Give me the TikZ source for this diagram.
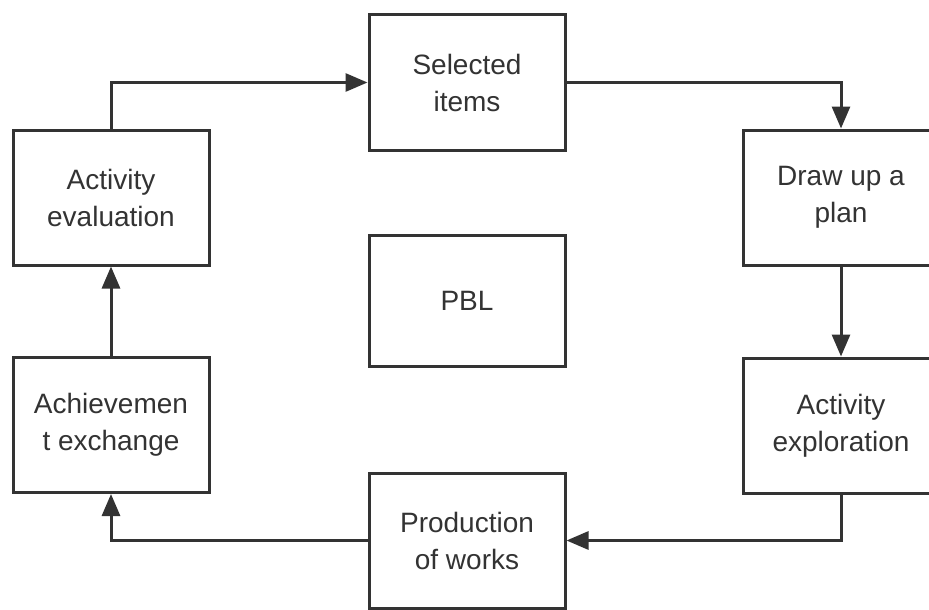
\documentclass[tikz,border=0pt]{standalone}
\usepackage{fontspec}
\setmainfont{Liberation Sans}
\usetikzlibrary{arrows.meta}
\definecolor{ink}{HTML}{333333}
\begin{document}
\begin{tikzpicture}[x=1pt,y=-1pt,
  stage/.style={draw=ink, line width=3pt, fill=white, minimum width=196pt,
    minimum height=135pt, align=center, text=ink, inner sep=0pt,
    font=\fontsize{28pt}{37pt}\selectfont},
  flow/.style={draw=ink, line width=3pt, -{Triangle[length=22pt,width=18pt]}},
  link/.style={draw=ink, line width=3pt}]
  \useasboundingbox (0,0) rectangle (929,610);

  % stages of the cycle
  \node[stage] (sel)  at (467,82.5)  {Selected\\items};
  \node[stage] (eval) at (111,197.5) {Activity\\evaluation};
  \node[stage] (plan) at (841,197.5) {Draw up a\\plan};
  \node[stage, minimum height=131pt] (pbl) at (467,300.5) {PBL};
  \node[stage] (ach)  at (111,425)   {Achievemen\\t exchange};
  \node[stage] (expl) at (841,425.5) {Activity\\exploration};
  \node[stage] (prod) at (467,540.5) {Production\\of works};

  % connectors
  \draw[flow] (eval.north) |- (sel.west);
  \draw[flow] (sel.east) -| (plan.north);
  \draw[flow] (plan.south) -- (expl.north);
  \draw[flow] (expl.south) |- (prod.east);
  \draw[flow] (prod.west) -| (ach.south);
  \draw[flow] (ach.north) -- (eval.south);
\end{tikzpicture}
\end{document}
